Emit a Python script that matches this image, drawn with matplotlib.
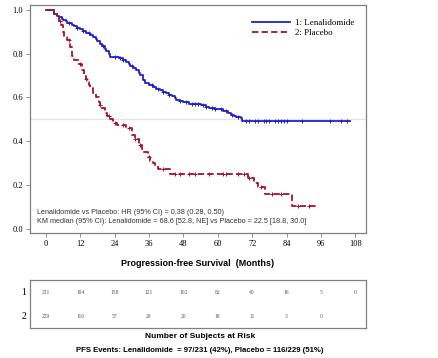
import numpy as np
import matplotlib
matplotlib.use("Agg")
import matplotlib.pyplot as plt

# Kaplan-Meier step points (months, survival)
len_t = [0, 3, 4, 4.5, 5.5, 6, 7, 7.5, 9, 10, 11, 12, 13, 14, 15.5, 16.5, 17.5, 18,
         19, 19.5, 20.5, 21, 22, 22.5, 25.5, 27, 28, 29, 29.5, 30.5, 31.5, 32.5, 33,
         34, 34.5, 36, 37.5, 38.5, 40, 41, 42, 43, 44, 45, 45.5, 47, 48, 50, 52, 54,
         56, 57, 59, 60, 62, 63.5, 64.5, 65.5, 66.5, 68, 68.6, 106]
len_s = [1.0, 0.98, 0.972, 0.965, 0.958, 0.953, 0.946, 0.94, 0.932, 0.925, 0.918,
         0.91, 0.903, 0.895, 0.886, 0.877, 0.866, 0.855, 0.845, 0.835, 0.822, 0.81,
         0.798, 0.786, 0.778, 0.77, 0.76, 0.752, 0.745, 0.735, 0.725, 0.712, 0.70,
         0.68, 0.665, 0.655, 0.647, 0.64, 0.632, 0.626, 0.62, 0.612, 0.605, 0.597,
         0.59, 0.583, 0.578, 0.572, 0.568, 0.565, 0.558, 0.552, 0.548, 0.545, 0.54,
         0.53, 0.52, 0.516, 0.513, 0.505, 0.494, 0.494]
len_cens = [8, 11, 13, 15, 20, 24, 26, 27, 30, 37, 39, 41, 43, 47, 49, 51, 52, 53,
            55, 56, 58, 59, 61, 63, 65, 67, 70, 71, 73, 74, 76, 77, 78, 80, 81, 82,
            83, 84, 89.5, 99, 103, 105]

pla_t = [0, 3, 4.5, 5.2, 6, 6.5, 7.5, 8.5, 9, 10, 11.5, 12.5, 13.5, 14, 14.5, 15,
         15.5, 16.5, 17.5, 18.5, 19, 19.5, 20.5, 21.5, 22.5, 23.5, 25, 28, 30, 31,
         32.5, 33.5, 34, 35.5, 36.5, 37.5, 38, 39.3, 43.5, 70.5, 72.5, 74, 76.5,
         85.8, 95]
pla_s = [1.0, 0.98, 0.95, 0.93, 0.9, 0.877, 0.86, 0.83, 0.79, 0.77, 0.75, 0.725,
         0.70, 0.685, 0.67, 0.657, 0.645, 0.62, 0.60, 0.58, 0.565, 0.55, 0.53, 0.515,
         0.50, 0.485, 0.474, 0.46, 0.43, 0.41, 0.383, 0.365, 0.35, 0.33, 0.31, 0.30,
         0.29, 0.272, 0.252, 0.233, 0.21, 0.193, 0.16, 0.105, 0.105]
pla_cens = [5, 8, 12, 14, 19, 22, 24, 27, 29, 31, 33, 36, 41, 45, 47, 50, 52, 57,
            62, 63, 67, 69, 71, 75, 79, 82, 88, 92]

months = [0, 12, 24, 36, 48, 60, 72, 84, 96, 108]
risk_len = [231, 194, 158, 121, 102, 82, 40, 16, 5, 0]
risk_pla = [229, 116, 57, 29, 20, 18, 11, 3, 0]

blue = "#2222c4"
red = "#a8102c"
serif = "Liberation Serif"
sans = "Liberation Sans"


def surv_at(tt, ss, x):
    i = np.searchsorted(tt, x, side="right") - 1
    return np.array(ss)[i]


fig = plt.figure(figsize=(4.38, 3.58), dpi=100)
ax = fig.add_axes([0.0685, 0.349, 0.767, 0.637])

ax.axhline(0.5, color="#e4e4e4", lw=0.9, zorder=0)
ax.step(len_t, len_s, where="post", color=blue, lw=1.3, label="1: Lenalidomide")
ax.step(pla_t, pla_s, where="post", color=red, lw=1.3, ls=(0, (3.5, 1.8)),
        label="2: Placebo")
ax.plot(len_cens, surv_at(len_t, len_s, len_cens), "+", color=blue, ms=3, mew=0.7)
ax.plot(pla_cens, surv_at(pla_t, pla_s, pla_cens), "+", color=red, ms=3, mew=0.7)

ax.set_xlim(-5.5, 111.7)
ax.set_ylim(-0.018, 1.021)
ax.set_xticks(months)
ax.set_yticks([0, 0.2, 0.4, 0.6, 0.8, 1.0])
ax.set_yticklabels(["0.0", "0.2", "0.4", "0.6", "0.8", "1.0"])
for lab in ax.get_xticklabels() + ax.get_yticklabels():
    lab.set_fontfamily(serif)
    lab.set_fontsize(6)
ax.tick_params(length=3, width=0.6, color="#808080", pad=2)
for sp in ax.spines.values():
    sp.set_color("#808080")
    sp.set_linewidth(0.9)

ax.legend(loc="upper right", bbox_to_anchor=(0.99, 0.975), frameon=False,
          prop={"family": serif, "size": 6.5}, handlelength=4.2,
          labelspacing=0.15, handletextpad=0.6)

ax.text(0.02, 0.085, "Lenalidomide vs Placebo: HR (95% CI) = 0.38 (0.28, 0.50)",
        transform=ax.transAxes, family=sans, fontsize=5.2, color="#333333")
ax.text(0.02, 0.045,
        "KM median (95% CI): Lenalidomide = 68.6 [52.8, NE] vs Placebo = 22.5 [18.8, 30.0]",
        transform=ax.transAxes, family=sans, fontsize=5.2, color="#333333")
ax.set_xlabel("Progression-free Survival  (Months)", family=sans, fontsize=6.5,
              fontweight="bold", labelpad=8)

# at-risk table
ar = fig.add_axes([0.0685, 0.0838, 0.767, 0.134])
ar.set_xlim(-5.5, 111.7)
ar.set_ylim(0, 1)
ar.set_xticks([])
ar.set_yticks([])
for sp in ar.spines.values():
    sp.set_color("#808080")
    sp.set_linewidth(0.9)
for m, n in zip(months, risk_len):
    ar.text(m, 0.75, str(n), ha="center", va="center", family=serif, fontsize=4,
            color="#555555")
for m, n in zip(months, risk_pla):
    ar.text(m, 0.25, str(n), ha="center", va="center", family=serif, fontsize=4,
            color="#555555")
ar.text(-0.012, 0.75, "1", transform=ar.transAxes, ha="right", va="center",
        family=serif, fontsize=7)
ar.text(-0.012, 0.25, "2", transform=ar.transAxes, ha="right", va="center",
        family=serif, fontsize=7)

fig.text(0.457, 1 - 337 / 358, "Number of Subjects at Risk", ha="center",
         va="center", family=sans, fontsize=6, fontweight="bold")
fig.text(0.457, 1 - 351 / 358,
         "PFS Events: Lenalidomide  = 97/231 (42%), Placebo = 116/229 (51%)",
         ha="center", va="center", family=sans, fontsize=5.6, fontweight="bold")

fig.savefig("out.png", dpi=100)
